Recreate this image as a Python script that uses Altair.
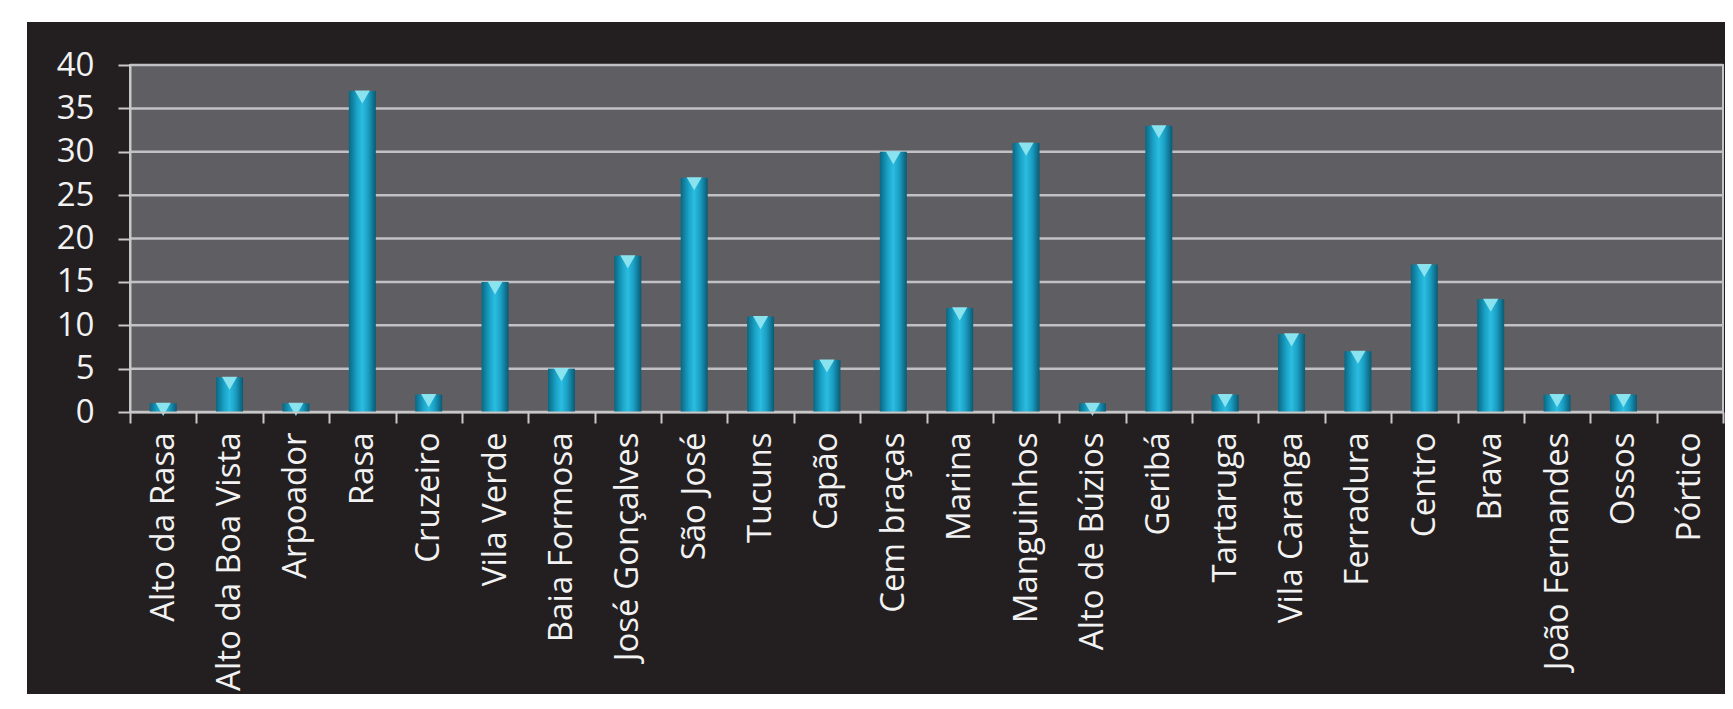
import altair as alt
import pandas as pd

bairros = ["Alto da Rasa", "Alto da Boa Vista", "Arpoador", "Rasa", "Cruzeiro",
           "Vila Verde", "Baia Formosa", "José Gonçalves", "São José", "Tucuns",
           "Capão", "Cem braças", "Marina", "Manguinhos", "Alto de Búzios",
           "Geribá", "Tartaruga", "Vila Caranga", "Ferradura", "Centro",
           "Brava", "João Fernandes", "Ossos", "Pórtico"]
valores = [1, 4, 1, 37, 2, 15, 5, 18, 27, 11, 6, 30, 12, 31, 1, 33, 2, 9, 7, 17, 13, 2, 2, 0]
y_ticks = [0, 5, 10, 15, 20, 25, 30, 35, 40]

W = 1597
H = 347
FONT = "Open Sans"

df = pd.DataFrame({"bairro": bairros, "valor": valores})
df_bars = df[df["valor"] > 0]
grid_df = pd.DataFrame({"g": y_ticks})
one = pd.DataFrame({"k": [0]})

x_scale = alt.Scale(domain=bairros, paddingInner=0, paddingOuter=0)
x_enc = alt.X("bairro:N", title=None, scale=x_scale,
              axis=alt.Axis(labelAngle=-90, labelFontSize=33, labelFont=FONT,
                            labelColor="#f2f2f2", tickBand="extent", tickSize=11,
                            tickColor="#c8c8c8", tickWidth=2, domainColor="#c8c8c8",
                            domainWidth=2, labelPadding=9, zindex=1, grid=False,
                            labelLimit=400))
y_scale = alt.Scale(domain=[0, 40], nice=False)
y_axis = alt.Axis(values=y_ticks, labelFontSize=33, labelFont=FONT,
                  labelColor="#f2f2f2", tickSize=12, tickColor="#c8c8c8",
                  tickWidth=2, domainColor="#c8c8c8", domainWidth=2,
                  labelPadding=24, zindex=1, grid=False)

black = alt.Chart(one).mark_rect(color="#231f20").encode(
    x=alt.value(-103), x2=alt.value(W - 2), y=alt.value(-43), y2=alt.value(629))
gray = alt.Chart(one).mark_rect(color="#5f5e63", stroke="#c4c4c4", strokeWidth=2).encode(
    x=alt.value(0), x2=alt.value(W - 4), y=alt.value(0), y2=alt.value(H))
grid = alt.Chart(grid_df).mark_rule(color="#c2c2c6", strokeWidth=2.5).encode(
    y=alt.Y("g:Q", scale=y_scale, title=None, axis=y_axis),
    x=alt.value(0), x2=alt.value(W - 4))

grad = alt.LinearGradient(gradient="linear", x1=0, x2=1, y1=0, y2=0, stops=[
    alt.GradientStop(color="#0a6782", offset=0),
    alt.GradientStop(color="#1aa3c8", offset=0.3),
    alt.GradientStop(color="#2bbde0", offset=0.5),
    alt.GradientStop(color="#1a9ec3", offset=0.72),
    alt.GradientStop(color="#095a73", offset=1)])

bars = alt.Chart(df_bars).mark_bar(size=27, color=grad).encode(
    x=x_enc, y=alt.Y("valor:Q", scale=y_scale, title=None, axis=y_axis))
caps = alt.Chart(df_bars).mark_point(shape="triangle-down", filled=True, size=230,
                                     color="#8fe6f0", opacity=0.95, yOffset=6).encode(
    x=alt.X("bairro:N", scale=x_scale, title=None),
    y=alt.Y("valor:Q", scale=y_scale, title=None))

chart = alt.layer(black, gray, grid, bars, caps).properties(
    width=W - 4, height=H, padding={"left": 19, "top": 14, "right": 0, "bottom": 0},
    background="white"
).configure_view(stroke=None)

chart.save("out.html", embed_options={"renderer": "svg", "actions": False})
